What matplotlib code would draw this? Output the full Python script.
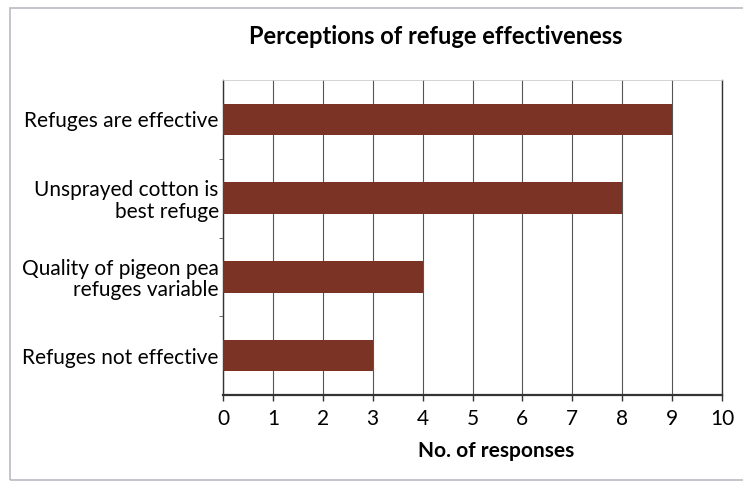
import matplotlib
matplotlib.use('Agg')
import matplotlib.pyplot as plt
from matplotlib.patches import Rectangle

categories = ['Refuges are effective', 'Unsprayed cotton is\nbest refuge',
              'Quality of pigeon pea\nrefuges variable', 'Refuges not effective']
responses = [9, 8, 4, 3]
x_ticks = list(range(0, 11))

plt.rcParams['font.family'] = ['Lato', 'DejaVu Sans']

fig = plt.figure(figsize=(7.43, 4.84), dpi=100)
ax = fig.add_axes([223 / 743, 1 - 395 / 484, (722 - 223) / 743, (395 - 80) / 484])

# outer frame of the scanned figure
fig.patches.append(Rectangle((10 / 743, 4 / 484), 740 / 743, 472 / 484, transform=fig.transFigure,
                             fill=False, edgecolor='#b8bcc4', linewidth=1.2))

ypos = list(range(len(categories)))
ax.barh(ypos, responses, height=0.4, color='#7b3326', zorder=3)

ax.set_xlim(0, 10)
ax.set_ylim(len(categories) - 0.5, -0.5)
ax.set_xticks(x_ticks)
ax.set_xticklabels([str(t) for t in x_ticks], fontsize=15)
ax.set_yticks(ypos)
ax.set_yticklabels(categories, fontsize=15, ha='right', multialignment='right',
                   linespacing=1.1)
ax.tick_params(axis='y', length=0, pad=3)
ax.set_yticks([0.5, 1.5, 2.5], minor=True)
ax.tick_params(axis='y', which='minor', length=3, direction='out', color='#555555')
ax.tick_params(axis='x', length=4, width=1, color='#333333', pad=6)
ax.grid(axis='x', color='#555555', linewidth=0.8, zorder=0)

for side in ['left', 'right', 'bottom']:
    ax.spines[side].set_color('#333333')
ax.spines['bottom'].set_linewidth(1.6)
ax.spines['left'].set_linewidth(1.0)
ax.spines['right'].set_linewidth(1.0)
ax.spines['top'].set_color('#cccccc')
ax.spines['top'].set_linewidth(0.6)

ax.set_xlabel('No. of responses', fontsize=15, fontweight='bold', labelpad=7)
ax.xaxis.set_label_coords(0.548, -0.145)
fig.text(436 / 743, 1 - 36 / 484, 'Perceptions of refuge effectiveness', fontsize=17,
         fontweight='bold', ha='center', va='center')

fig.savefig('out.png', dpi=100)
